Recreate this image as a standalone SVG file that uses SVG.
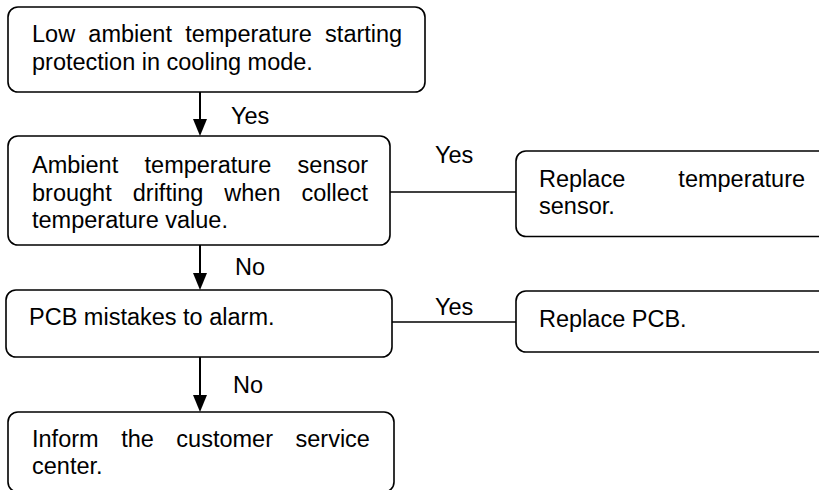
<svg xmlns="http://www.w3.org/2000/svg" width="819" height="490" viewBox="0 0 819 490">
<defs>
<style>
.box{fill:#fff;stroke:#000;stroke-width:1.6}
.t{font-family:"Liberation Sans",Arial,sans-serif;font-size:23.5px;fill:#000}
.ln{stroke:#000;stroke-width:2;fill:none}
.hl{stroke:#000;stroke-width:1.4;fill:none}
.ah{fill:#000}
</style>
</defs>
<rect width="819" height="490" fill="#fff"/>
<g id="connectors">
<line class="ln" x1="200" y1="92" x2="200" y2="119"/>
<polygon class="ah" points="193,119 207,119 200,136"/>
<text class="t" x="231" y="124">Yes</text>
<line class="ln" x1="200" y1="245" x2="200" y2="273"/>
<polygon class="ah" points="193,273 207,273 200,290"/>
<text class="t" x="235" y="275">No</text>
<line class="ln" x1="200" y1="357" x2="200" y2="395"/>
<polygon class="ah" points="193,395 207,395 200,412"/>
<text class="t" x="233" y="393">No</text>
<line class="hl" x1="390" y1="192" x2="516" y2="192"/>
<text class="t" x="435" y="163">Yes</text>
<line class="hl" x1="392" y1="322" x2="516" y2="322"/>
<text class="t" x="435" y="315">Yes</text>
</g>
<g id="n1">
<rect class="box" x="8" y="7" width="417" height="85" rx="10"/>
<text class="t" x="32" y="42" word-spacing="6.7">Low ambient temperature starting</text>
<text class="t" x="32" y="70">protection in cooling mode.</text>
</g>
<g id="n2">
<rect class="box" x="8" y="136" width="382" height="109" rx="10"/>
<text class="t" x="32" y="173" word-spacing="19.8">Ambient temperature sensor</text>
<text class="t" x="32" y="200.5" word-spacing="14.5">brought drifting when collect</text>
<text class="t" x="32" y="228">temperature value.</text>
</g>
<g id="n3">
<rect class="box" x="516" y="151" width="330" height="85.5" rx="10"/>
<text class="t" x="539" y="187" word-spacing="46.6">Replace temperature</text>
<text class="t" x="539" y="214">sensor.</text>
</g>
<g id="n4">
<rect class="box" x="6" y="290" width="386" height="67" rx="10"/>
<text class="t" x="29" y="325">PCB mistakes to alarm.</text>
</g>
<g id="n5">
<rect class="box" x="516" y="291" width="330" height="61" rx="10"/>
<text class="t" x="539" y="327">Replace PCB.</text>
</g>
<g id="n6">
<rect class="box" x="8" y="412" width="386" height="80" rx="10"/>
<text class="t" x="32" y="447" word-spacing="16">Inform the customer service</text>
<text class="t" x="32" y="474">center.</text>
</g>
</svg>
